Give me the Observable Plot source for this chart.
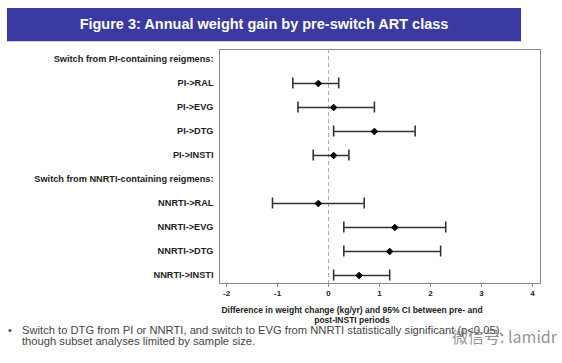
<!DOCTYPE html>
<html>
<head>
<meta charset="utf-8">
<script src="https://cdn.jsdelivr.net/npm/d3@7"></script>
<script src="https://cdn.jsdelivr.net/npm/@observablehq/plot@0.6"></script>
<style>
  html, body { margin: 0; padding: 0; background: #fff; }
  #wrap { position: relative; width: 562px; height: 363px; overflow: hidden; font-family: Arial, "Liberation Sans", sans-serif; }
  #titlebar { position: absolute; left: 7px; top: 8px; width: 514px; height: 33px; background: #3a3aa2; border-bottom: 1px solid #c9c9ea;
    color: #fff; font-weight: bold; font-size: 14.5px; line-height: 33px; text-align: center; }
  #chart { position: absolute; left: 0; top: 0; }
  #xlabel { position: absolute; left: 200px; width: 304px; top: 305px; text-align: center; font-size: 8.5px; font-weight: bold; color: #222; line-height: 10px; }
  #note { position: absolute; left: 8px; top: 325px; width: 550px; font-size: 11.2px; color: #444; line-height: 10.5px; }
  #note .b { position: absolute; left: 0; top: 0; }
  #note .t { margin-left: 14px; }
  #wm { position: absolute; left: 452px; top: 324px; font-size: 16px; color: rgba(110,110,110,0.75); font-family: "Noto Sans CJK SC", sans-serif; }
</style>
</head>
<body>
<div id="wrap">
  <div id="chart"></div>
  <div id="titlebar">Figure 3: Annual weight gain by pre-switch ART class</div>
  <div id="xlabel">Difference in weight change (kg/yr) and 95% CI between pre- and<br>post-INSTI periods</div>
  <div id="note"><span class="b">•</span><div class="t">Switch to DTG from PI or NNRTI, and switch to EVG from NNRTI statistically significant (p&lt;0.05),<br>though subset analyses limited by sample size.</div></div>
  <div id="wm">微信号: lamidr</div>
</div>
<script>
const rows = ["Switch from PI-containing reigmens:", "PI->RAL", "PI->EVG", "PI->DTG", "PI->INSTI",
              "Switch from NNRTI-containing reigmens:", "NNRTI->RAL", "NNRTI->EVG", "NNRTI->DTG", "NNRTI->INSTI"];
const groups = ["PI->RAL", "PI->EVG", "PI->DTG", "PI->INSTI", "NNRTI->RAL", "NNRTI->EVG", "NNRTI->DTG", "NNRTI->INSTI"];
const estimate = [-0.2, 0.1, 0.9, 0.1, -0.2, 1.3, 1.2, 0.6];
const lower    = [-0.7, -0.6, 0.1, -0.3, -1.1, 0.3, 0.3, 0.1];
const upper    = [0.2, 0.9, 1.7, 0.4, 0.7, 2.3, 2.2, 1.2];
const xTicks = [-2, -1, 0, 1, 2, 3, 4];

const data = groups.map((g, i) => ({group: g, est: estimate[i], lo: lower[i], hi: upper[i]}));
const caps = data.flatMap(d => [{group: d.group, x: d.lo}, {group: d.group, x: d.hi}]);

const chart = Plot.plot({
  width: 562,
  height: 363,
  marginLeft: 219,
  marginRight: 22,
  marginTop: 49,
  marginBottom: 80,
  style: {fontFamily: "Arial, 'Liberation Sans', sans-serif", background: "transparent"},
  x: {domain: [-2.14, 4.16]},
  y: {type: "band", domain: rows, range: [47, 287], padding: 0},
  marks: [
    Plot.frame({stroke: "#888", strokeWidth: 1}),
    Plot.ruleX([0], {stroke: "#aaa", strokeDasharray: "4,3", strokeWidth: 1}),
    Plot.ruleY(data, {y: "group", x1: "lo", x2: "hi", stroke: "#333", strokeWidth: 1.6}),
    Plot.tickX(caps, {x: "x", y: "group", stroke: "#333", strokeWidth: 1.6, insetTop: 6.5, insetBottom: 6.5}),
    Plot.dot(data, {x: "est", y: "group", symbol: "diamond2", r: 3, fill: "#000", stroke: "#000", strokeWidth: 1}),
    Plot.axisX({ticks: xTicks, tickFormat: d => String(d), tickSize: 4, tickPadding: 3, fontSize: 8, fontWeight: "bold", stroke: "#888", fill: "#222", label: null}),
    Plot.axisY({tickSize: 0, tickPadding: 6, fontSize: 9.2, fontWeight: "bold", fill: "#222", label: null})
  ]
});
document.getElementById("chart").appendChild(chart);
</script>
</body>
</html>
